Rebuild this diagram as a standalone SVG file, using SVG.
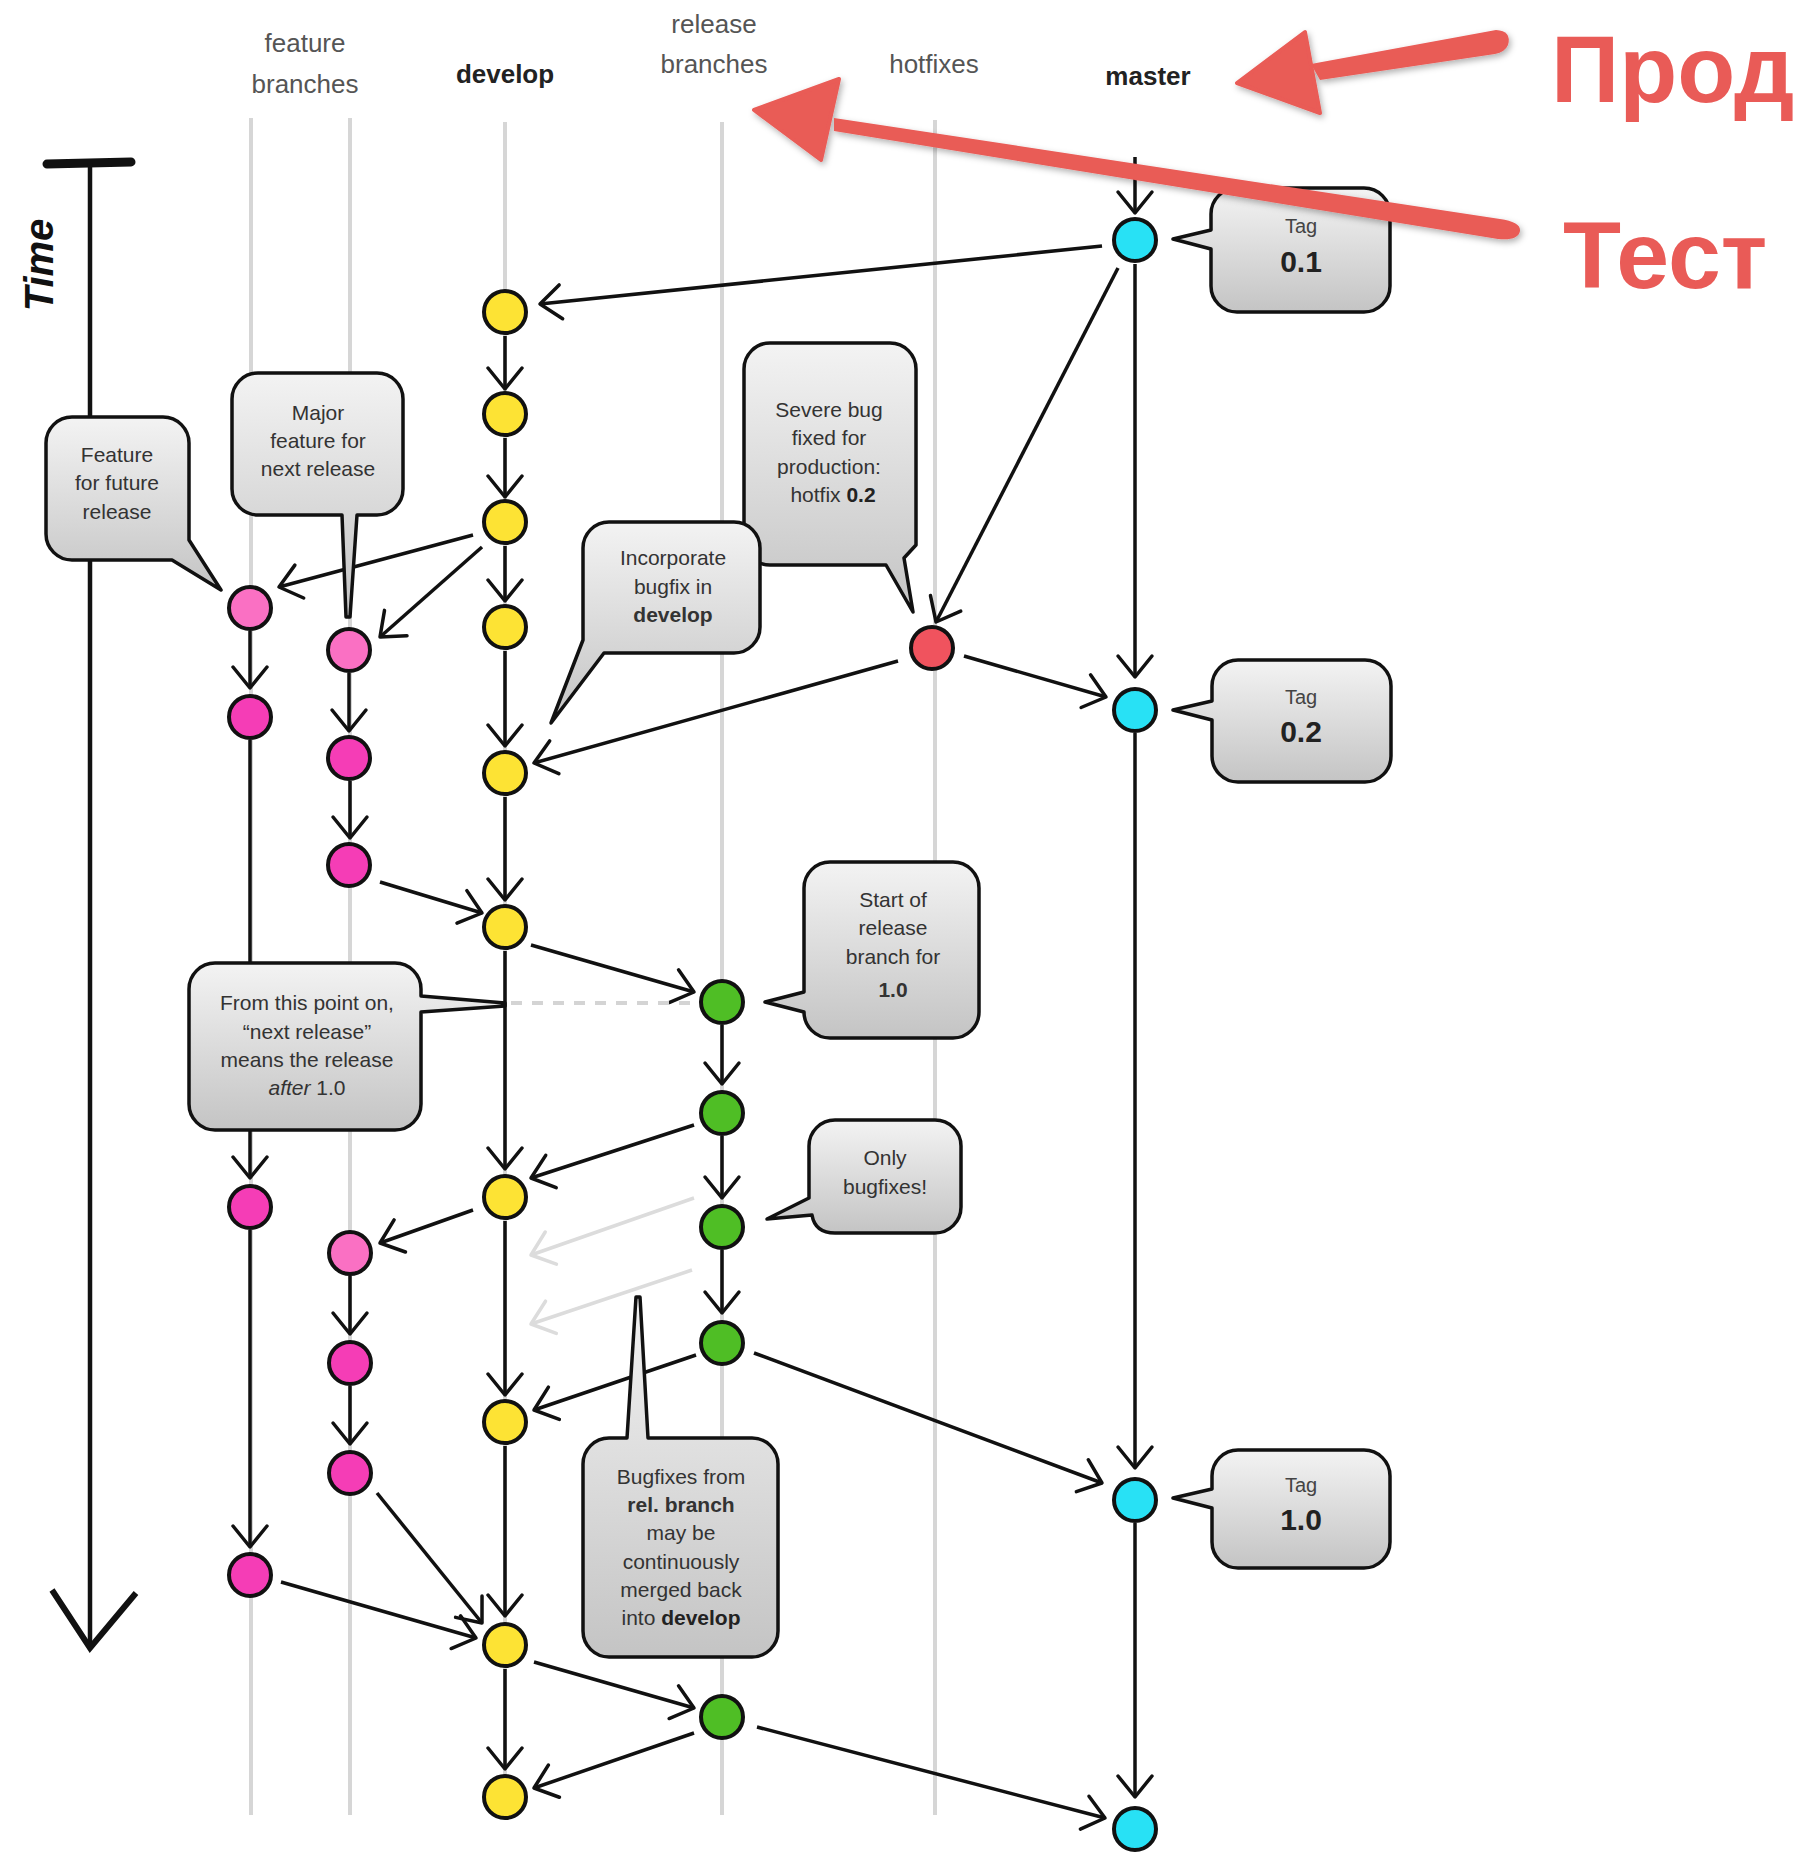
<svg xmlns="http://www.w3.org/2000/svg" width="1820" height="1860" viewBox="0 0 1820 1860">
<style>
  .lane{stroke:#d6d6d6;stroke-width:4;fill:none}
  .hdr{font-family:"Liberation Sans",Arial,sans-serif;font-size:26px;fill:#555;text-anchor:middle}
  .hdrb{font-family:"Liberation Sans",Arial,sans-serif;font-size:26px;font-weight:bold;fill:#222;text-anchor:middle}
  .conn{stroke:#111;stroke-width:3.5;fill:none;marker-end:url(#ah)}
  .faint{stroke:#dcdcdc;stroke-width:3.5;fill:none;marker-end:url(#ahg)}
  .node{stroke:#111;stroke-width:4}
  .yel{fill:#FDE334}.lpk{fill:#FA70C3}.mag{fill:#F53DB6}.grn{fill:#4FBE25}.cyn{fill:#28E1F5}.red{fill:#F0535E}
  .box{fill:url(#gbox);stroke:#111;stroke-width:3.5;stroke-linejoin:round}
  .ct{font-family:"Liberation Sans",Arial,sans-serif;font-size:21px;fill:#333;text-anchor:middle}
  .tagt{font-family:"Liberation Sans",Arial,sans-serif;font-size:20px;fill:#444;text-anchor:middle}
  .tagv{font-family:"Liberation Sans",Arial,sans-serif;font-size:30px;font-weight:bold;fill:#222;text-anchor:middle}
  .redt{font-family:"Liberation Sans",Arial,sans-serif;font-size:95px;font-weight:bold;fill:#E95B57}
  .redf{fill:#E95B57}
</style>
<defs>
  <linearGradient id="gbox" x1="0" y1="0" x2="0" y2="1">
    <stop offset="0" stop-color="#f3f3f3"/>
    <stop offset="1" stop-color="#c4c4c4"/>
  </linearGradient>
  <marker id="ah" viewBox="-26 -22 30 44" refX="0" refY="0" markerWidth="30" markerHeight="44" markerUnits="userSpaceOnUse" orient="auto">
    <path d="M -21 -17 L 0 0 L -21 17" fill="none" stroke="#111" stroke-width="3.5" stroke-linecap="round" stroke-linejoin="round"/>
  </marker>
  <marker id="ahg" viewBox="-26 -22 30 44" refX="0" refY="0" markerWidth="30" markerHeight="44" markerUnits="userSpaceOnUse" orient="auto">
    <path d="M -21 -17 L 0 0 L -21 17" fill="none" stroke="#dcdcdc" stroke-width="3.5" stroke-linecap="round" stroke-linejoin="round"/>
  </marker>
  <filter id="shadow" x="-10%" y="-30%" width="120%" height="160%">
    <feDropShadow dx="2" dy="3" stdDeviation="3" flood-color="#000" flood-opacity="0.3"/>
  </filter>
</defs>
<rect width="1820" height="1860" fill="#fff"/>

<g id="lanes">
  <line class="lane" x1="251" y1="118" x2="251" y2="1815"/>
  <line class="lane" x1="350" y1="118" x2="350" y2="1815"/>
  <line class="lane" x1="505" y1="122" x2="505" y2="1815"/>
  <line class="lane" x1="722" y1="122" x2="722" y2="1815"/>
  <line class="lane" x1="935" y1="120" x2="935" y2="1815"/>
</g>

<g id="headers">
  <text class="hdr" x="305" y="52">feature</text>
  <text class="hdr" x="305" y="93">branches</text>
  <text class="hdrb" x="505" y="83">develop</text>
  <text class="hdr" x="714" y="33">release</text>
  <text class="hdr" x="714" y="73">branches</text>
  <text class="hdr" x="934" y="73">hotfixes</text>
  <text class="hdrb" x="1148" y="85">master</text>
</g>

<g id="time-axis">
  <line x1="47" y1="164" x2="131" y2="162" stroke="#111" stroke-width="9" stroke-linecap="round"/>
  <line x1="90" y1="163" x2="90" y2="1645" stroke="#111" stroke-width="4.5"/>
  <polyline points="52,1590 90,1648 136,1593" fill="none" stroke="#111" stroke-width="6" stroke-linejoin="miter"/>
  <text x="0" y="0" transform="translate(53,265) rotate(-90)" font-family="Liberation Sans,Arial,sans-serif" font-size="40" font-weight="bold" font-style="italic" fill="#111" text-anchor="middle">Time</text>
</g>

<g id="connectors">
  <line class="conn" x1="1135" y1="157" x2="1135" y2="213"/>
  <line class="conn" x1="1102" y1="246" x2="540" y2="304"/>
  <line class="conn" x1="1118" y1="268" x2="936" y2="622"/>
  <line class="conn" x1="1135" y1="264" x2="1135" y2="677"/>
  <line class="conn" x1="964" y1="656" x2="1106" y2="697"/>
  <line class="conn" x1="898" y1="661" x2="534" y2="763"/>
  <line class="conn" x1="505" y1="336" x2="505" y2="389"/>
  <line class="conn" x1="505" y1="438" x2="505" y2="497"/>
  <line class="conn" x1="505" y1="546" x2="505" y2="601"/>
  <line class="conn" x1="505" y1="651" x2="505" y2="746"/>
  <line class="conn" x1="505" y1="797" x2="505" y2="900"/>
  <line class="conn" x1="505" y1="951" x2="505" y2="1169"/>
  <line class="conn" x1="505" y1="1221" x2="505" y2="1395"/>
  <line class="conn" x1="505" y1="1446" x2="505" y2="1616"/>
  <line class="conn" x1="505" y1="1669" x2="505" y2="1769"/>
  <line class="conn" x1="473" y1="535" x2="279" y2="587"/>
  <line class="conn" x1="482" y1="547" x2="380" y2="637"/>
  <line class="conn" x1="250" y1="631" x2="250" y2="688"/>
  <line class="conn" x1="250" y1="740" x2="250" y2="1178"/>
  <line class="conn" x1="250" y1="1230" x2="250" y2="1547"/>
  <line class="conn" x1="281" y1="1582" x2="476" y2="1638"/>
  <line class="conn" x1="349" y1="673" x2="349" y2="731"/>
  <line class="conn" x1="350" y1="781" x2="350" y2="838"/>
  <line class="conn" x1="380" y1="882" x2="482" y2="913"/>
  <line class="conn" x1="531" y1="945" x2="694" y2="992"/>
  <line class="conn" x1="722" y1="1025" x2="722" y2="1084"/>
  <line class="conn" x1="722" y1="1136" x2="722" y2="1198"/>
  <line class="conn" x1="722" y1="1250" x2="722" y2="1313"/>
  <line class="conn" x1="694" y1="1125" x2="531" y2="1178"/>
  <line class="conn" x1="473" y1="1210" x2="380" y2="1243"/>
  <line class="conn" x1="350" y1="1276" x2="350" y2="1334"/>
  <line class="conn" x1="350" y1="1386" x2="350" y2="1444"/>
  <line class="conn" x1="377" y1="1493" x2="482" y2="1623"/>
  <line class="conn" x1="696" y1="1355" x2="534" y2="1410"/>
  <line class="conn" x1="754" y1="1353" x2="1102" y2="1483"/>
  <line class="conn" x1="1135" y1="733" x2="1135" y2="1468"/>
  <line class="conn" x1="534" y1="1662" x2="694" y2="1708"/>
  <line class="conn" x1="694" y1="1733" x2="534" y2="1788"/>
  <line class="conn" x1="757" y1="1727" x2="1105" y2="1818"/>
  <line class="conn" x1="1135" y1="1523" x2="1135" y2="1797"/>
  <line class="faint" x1="694" y1="1198" x2="531" y2="1255"/>
  <line class="faint" x1="692" y1="1270" x2="531" y2="1324"/>
  <line x1="511" y1="1003" x2="692" y2="1003" stroke="#d4d4d4" stroke-width="4" stroke-dasharray="11 10"/>
</g>

<g id="n-m1"><circle class="node cyn" cx="1135" cy="240" r="21"/></g>
<g id="n-m2"><circle class="node cyn" cx="1135" cy="710" r="21"/></g>
<g id="n-m3"><circle class="node cyn" cx="1135" cy="1500" r="21"/></g>
<g id="n-m4"><circle class="node cyn" cx="1135" cy="1829" r="21"/></g>
<g id="n-h1"><circle class="node red" cx="932" cy="648" r="21"/></g>
<g id="n-d1"><circle class="node yel" cx="505" cy="312" r="21"/></g>
<g id="n-d2"><circle class="node yel" cx="505" cy="414" r="21"/></g>
<g id="n-d3"><circle class="node yel" cx="505" cy="522" r="21"/></g>
<g id="n-d4"><circle class="node yel" cx="505" cy="627" r="21"/></g>
<g id="n-d5"><circle class="node yel" cx="505" cy="773" r="21"/></g>
<g id="n-d6"><circle class="node yel" cx="505" cy="927" r="21"/></g>
<g id="n-d7"><circle class="node yel" cx="505" cy="1197" r="21"/></g>
<g id="n-d8"><circle class="node yel" cx="505" cy="1422" r="21"/></g>
<g id="n-d9"><circle class="node yel" cx="505" cy="1645" r="21"/></g>
<g id="n-d10"><circle class="node yel" cx="505" cy="1797" r="21"/></g>
<g id="n-fa1"><circle class="node lpk" cx="250" cy="608" r="21"/></g>
<g id="n-fa2"><circle class="node mag" cx="250" cy="717" r="21"/></g>
<g id="n-fa3"><circle class="node mag" cx="250" cy="1207" r="21"/></g>
<g id="n-fa4"><circle class="node mag" cx="250" cy="1575" r="21"/></g>
<g id="n-fb1"><circle class="node lpk" cx="349" cy="650" r="21"/></g>
<g id="n-fb2"><circle class="node mag" cx="349" cy="758" r="21"/></g>
<g id="n-fb3"><circle class="node mag" cx="349" cy="865" r="21"/></g>
<g id="n-fb4"><circle class="node lpk" cx="350" cy="1253" r="21"/></g>
<g id="n-fb5"><circle class="node mag" cx="350" cy="1363" r="21"/></g>
<g id="n-fb6"><circle class="node mag" cx="350" cy="1473" r="21"/></g>
<g id="n-r1"><circle class="node grn" cx="722" cy="1002" r="21"/></g>
<g id="n-r2"><circle class="node grn" cx="722" cy="1113" r="21"/></g>
<g id="n-r3"><circle class="node grn" cx="722" cy="1227" r="21"/></g>
<g id="n-r4"><circle class="node grn" cx="722" cy="1343" r="21"/></g>
<g id="n-r5"><circle class="node grn" cx="722" cy="1717" r="21"/></g>

<g id="c-feature-future">
  <path class="box" d="M 72 417 H 163 A 26 26 0 0 1 189 443 V 540 L 221 590 L 172 560 H 72 A 26 26 0 0 1 46 534 V 443 A 26 26 0 0 1 72 417 Z"/>
  <text class="ct" x="117" y="462">Feature</text>
  <text class="ct" x="117" y="490">for future</text>
  <text class="ct" x="117" y="519">release</text>
</g>
<g id="c-major">
  <path class="box" d="M 258 373 H 377 A 26 26 0 0 1 403 399 V 489 A 26 26 0 0 1 377 515 H 357 L 350 617 L 346 617 L 342 515 H 258 A 26 26 0 0 1 232 489 V 399 A 26 26 0 0 1 258 373 Z"/>
  <text class="ct" x="318" y="420">Major</text>
  <text class="ct" x="318" y="448">feature for</text>
  <text class="ct" x="318" y="476">next release</text>
</g>
<g id="c-severe">
  <path class="box" d="M 770 343 H 890 A 26 26 0 0 1 916 369 V 545 L 904 558 L 913 612 L 886 565 H 770 A 26 26 0 0 1 744 539 V 369 A 26 26 0 0 1 770 343 Z"/>
  <text class="ct" x="829" y="417">Severe bug</text>
  <text class="ct" x="829" y="445">fixed for</text>
  <text class="ct" x="829" y="474">production:</text>
  <text class="ct" x="833" y="502">hotfix <tspan font-weight="bold" fill="#222">0.2</tspan></text>
</g>
<g id="c-incorporate">
  <path class="box" d="M 609 522 H 734 A 26 26 0 0 1 760 548 V 627 A 26 26 0 0 1 734 653 H 604 L 551 723 L 583 640 V 548 A 26 26 0 0 1 609 522 Z"/>
  <text class="ct" x="673" y="565">Incorporate</text>
  <text class="ct" x="673" y="594">bugfix in</text>
  <text class="ct" x="673" y="622" font-weight="bold" fill="#222">develop</text>
</g>
<g id="c-tag01">
  <path class="box" d="M 1237 188 H 1364 A 26 26 0 0 1 1390 214 V 286 A 26 26 0 0 1 1364 312 H 1237 A 26 26 0 0 1 1211 286 V 249 L 1173 239 L 1211 230 V 214 A 26 26 0 0 1 1237 188 Z"/>
  <text class="tagt" x="1301" y="233">Tag</text>
  <text class="tagv" x="1301" y="272">0.1</text>
</g>
<g id="c-tag02">
  <path class="box" d="M 1238 660 H 1365 A 26 26 0 0 1 1391 686 V 756 A 26 26 0 0 1 1365 782 H 1238 A 26 26 0 0 1 1212 756 V 720 L 1173 710 L 1212 701 V 686 A 26 26 0 0 1 1238 660 Z"/>
  <text class="tagt" x="1301" y="704">Tag</text>
  <text class="tagv" x="1301" y="742">0.2</text>
</g>
<g id="c-tag10">
  <path class="box" d="M 1238 1450 H 1364 A 26 26 0 0 1 1390 1476 V 1542 A 26 26 0 0 1 1364 1568 H 1238 A 26 26 0 0 1 1212 1542 V 1508 L 1173 1498 L 1212 1489 V 1476 A 26 26 0 0 1 1238 1450 Z"/>
  <text class="tagt" x="1301" y="1492">Tag</text>
  <text class="tagv" x="1301" y="1530">1.0</text>
</g>
<g id="c-start">
  <path class="box" d="M 830 862 H 953 A 26 26 0 0 1 979 888 V 1012 A 26 26 0 0 1 953 1038 H 830 A 26 26 0 0 1 804 1012 L 765 1002 L 804 992 V 888 A 26 26 0 0 1 830 862 Z"/>
  <text class="ct" x="893" y="907">Start of</text>
  <text class="ct" x="893" y="935">release</text>
  <text class="ct" x="893" y="964">branch for</text>
  <text class="ct" x="893" y="997" font-size="26" font-weight="bold" fill="#222">1.0</text>
</g>
<g id="c-only">
  <path class="box" d="M 835 1120 H 935 A 26 26 0 0 1 961 1146 V 1207 A 26 26 0 0 1 935 1233 H 835 Q 815 1233 812 1215 L 767 1219 L 809 1198 V 1146 A 26 26 0 0 1 835 1120 Z"/>
  <text class="ct" x="885" y="1165">Only</text>
  <text class="ct" x="885" y="1194">bugfixes!</text>
</g>
<g id="c-from">
  <path class="box" d="M 215 963 H 395 A 26 26 0 0 1 421 989 V 996 L 505 1003 L 505 1006 L 421 1012 V 1104 A 26 26 0 0 1 395 1130 H 215 A 26 26 0 0 1 189 1104 V 989 A 26 26 0 0 1 215 963 Z"/>
  <text class="ct" x="307" y="1010">From this point on,</text>
  <text class="ct" x="307" y="1039">“next release”</text>
  <text class="ct" x="307" y="1067">means the release</text>
  <text class="ct" x="307" y="1095"><tspan font-style="italic">after</tspan> 1.0</text>
</g>
<g id="c-bugfixes">
  <path class="box" d="M 609 1438 H 627 L 636 1297 L 640 1297 L 648 1438 H 752 A 26 26 0 0 1 778 1464 V 1631 A 26 26 0 0 1 752 1657 H 609 A 26 26 0 0 1 583 1631 V 1464 A 26 26 0 0 1 609 1438 Z"/>
  <text class="ct" x="681" y="1484">Bugfixes from</text>
  <text class="ct" x="681" y="1512" font-weight="bold" fill="#222">rel. branch</text>
  <text class="ct" x="681" y="1540">may be</text>
  <text class="ct" x="681" y="1569">continuously</text>
  <text class="ct" x="681" y="1597">merged back</text>
  <text class="ct" x="681" y="1625">into <tspan font-weight="bold" fill="#222">develop</tspan></text>
</g>

<g id="annotation-prod" filter="url(#shadow)">
  <path class="redf" d="M 1311 64 L 1496 30 Q 1512 31 1508 45 Q 1505 52 1495 54 L 1320 80 Z"/>
  <path class="redf" d="M 1237 83 L 1305 32 L 1320 113 Z" stroke="#E95B57" stroke-width="4" stroke-linejoin="round"/>
</g>
<g id="annotation-test" filter="url(#shadow)">
  <path class="redf" d="M 834 118 L 1500 219 Q 1521 222 1520 231 Q 1518 241 1498 239 L 834 131 Z"/>
  <path class="redf" d="M 754 110 L 839 79 L 821 160 Z" stroke="#E95B57" stroke-width="4" stroke-linejoin="round"/>
</g>
<g id="label-prod"><text class="redt" x="1551" y="102">Прод</text></g>
<g id="label-test"><text class="redt" x="1563" y="288">Тест</text></g>
</svg>
